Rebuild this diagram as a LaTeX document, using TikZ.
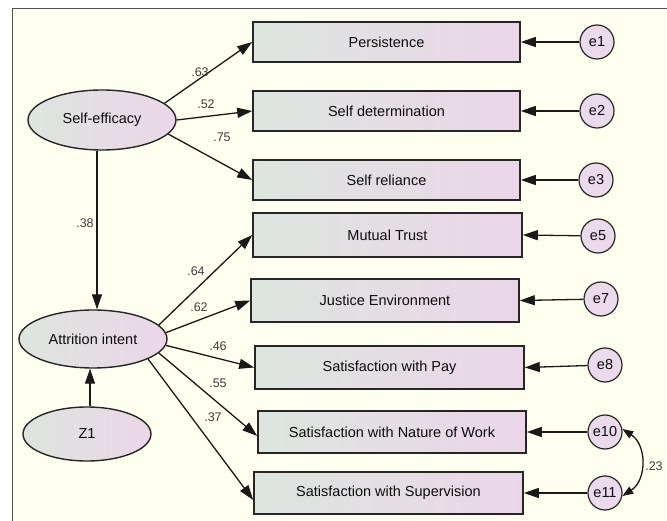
\documentclass[tikz,border=0pt]{standalone}
\usepackage{fontspec}
\setmainfont{Liberation Sans}
\usetikzlibrary{arrows.meta,shapes.geometric}
\definecolor{bg}{RGB}{255,255,240}
\definecolor{shl}{RGB}{221,229,222}
\definecolor{shr}{RGB}{235,214,233}
\definecolor{efill}{RGB}{234,218,236}
\definecolor{lbl}{RGB}{60,60,60}
\definecolor{framec}{RGB}{80,80,80}
\begin{document}
\begin{tikzpicture}[x=1pt,y=-1pt,
  txt/.style={font=\fontsize{14.5}{16}\selectfont, text=black!95},
  obs/.style={txt, draw=black!85, line width=1.6pt, rectangle, left color=shl, right color=shr, inner sep=0pt},
  lat/.style={txt, draw=black!85, line width=1.4pt, ellipse, left color=shl, right color=shr, inner sep=0pt},
  err/.style={txt, draw=black!85, line width=1.2pt, circle, fill=efill, minimum size=34pt, inner sep=0pt},
  arr/.style={-{Triangle[length=15pt,width=10pt]}, line width=1.3pt, black!90},
  cov/.style={{Triangle[length=11pt,width=8pt]}-{Triangle[length=11pt,width=8pt]}, line width=1.3pt, black!90},
  lab/.style={font=\fontsize{12.5}{14}\selectfont, text=lbl, inner sep=0pt}]
\useasboundingbox (0,0) rectangle (667,521);
\fill[white] (0,0) rectangle (667,521);
\fill[bg] (12.5,8.5) rectangle (667,521);
\draw[framec, line width=1pt] (667,8.5) -- (12.5,8.5) -- (12.5,521);

% observed variables
\node[obs, minimum width=267pt, minimum height=40pt] (p1) at (386.5,42) {Persistence};
\node[obs, minimum width=267pt, minimum height=40pt] (p2) at (386.5,111) {Self determination};
\node[obs, minimum width=267pt, minimum height=40pt] (p3) at (386.5,180) {Self reliance};
\node[obs, minimum width=269pt, minimum height=44pt] (p5) at (387.5,235) {Mutual Trust};
\node[obs, minimum width=268pt, minimum height=43pt] (p7) at (385,300.5) {Justice Environment};
\node[obs, minimum width=269pt, minimum height=43pt] (p8) at (389.5,367.5) {Satisfaction with Pay};
\node[obs, minimum width=268pt, minimum height=42pt] (p10) at (392,432) {Satisfaction with Nature of Work};
\node[obs, minimum width=269pt, minimum height=42pt] (p11) at (388.5,493) {Satisfaction with Supervision};

% latent variables
\node[lat, minimum width=148pt, minimum height=60pt] (se) at (102,120) {Self-efficacy};
\node[lat, minimum width=148pt, minimum height=58pt] (ai) at (93,339) {Attrition intent};
\node[lat, minimum width=128pt, minimum height=54pt] (z1) at (87,434) {Z1};

% error terms
\node[err] (e1) at (597,42) {e1};
\node[err] (e2) at (597,111) {e2};
\node[err] (e3) at (596,180) {e3};
\node[err] (e5) at (598,236) {e5};
\node[err] (e7) at (601,299) {e7};
\node[err] (e8) at (605,365) {e8};
\node[err] (e10) at (605,432) {e10};
\node[err] (e11) at (605,493) {e11};

% paths
\draw[arr] (se.15) -- (p1.west);
\draw[arr] (se.east) -- (p2.west);
\draw[arr] (se.348) -- (p3.west);
\draw[arr] ([xshift=-5pt]se.south) -- ([xshift=4pt]ai.north);
\draw[arr] (ai.12) -- (p5.west);
\draw[arr] (ai.5) -- (p7.west);
\draw[arr] (ai.355) -- (p8.west);
\draw[arr] (ai.348) -- ([yshift=-4pt]p10.west);
\draw[arr] (ai.340) -- ([yshift=-7pt]p11.west);
\draw[arr] ([xshift=3pt]z1.north) -- ([xshift=-3pt]ai.south);

\draw[arr] (e1) -- (p1.east);
\draw[arr] (e2) -- (p2.east);
\draw[arr] (e3) -- (p3.east);
\draw[arr] (e5) -- (p5.east);
\draw[arr] (e7) -- (p7.east);
\draw[arr] (e8) -- (p8.east);
\draw[arr] (e10) -- (p10.east);
\draw[arr] (e11) -- (p11.east);

\draw[cov] (e10.10) .. controls (647,445) and (647,480) .. (e11.350);

% coefficients
\node[lab] (l63) at (200,72) {.63};
\node[lab] (l52) at (206,104) {.52};
\node[lab] (l75) at (222,137) {.75};
\node[lab] (l38) at (85,223) {.38};
\node[lab] (l64) at (196,271) {.64};
\node[lab] (l62) at (199,307) {.62};
\node[lab] (l46) at (218,346) {.46};
\node[lab] (l55) at (218,383) {.55};
\node[lab] (l37) at (213,417) {.37};
\node[lab] (l23) at (654,466) {.23};
\end{tikzpicture}
\end{document}
